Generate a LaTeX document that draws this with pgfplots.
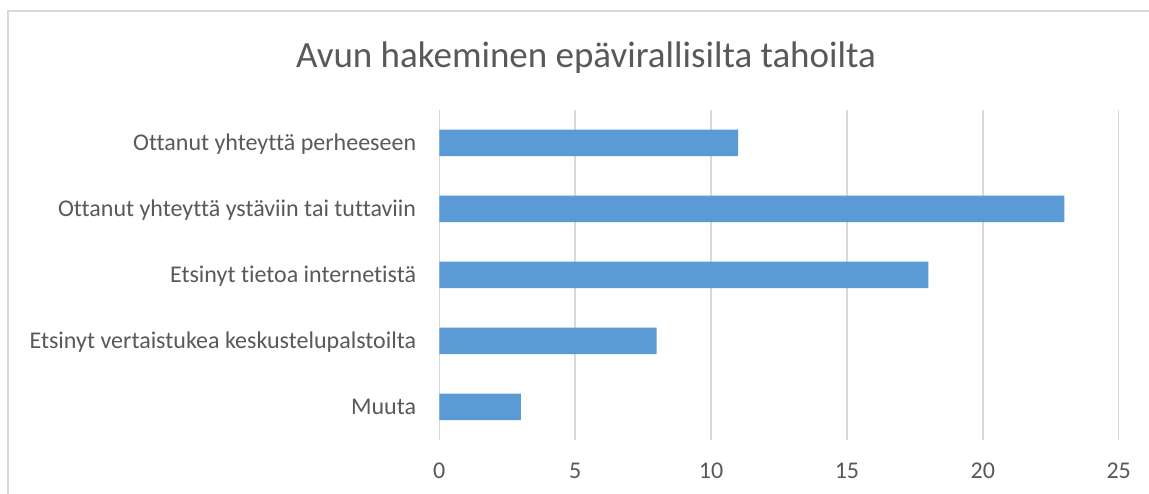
\documentclass[border=0pt]{standalone}
\usepackage{pgfplots}
\pgfplotsset{compat=1.18}
\usepackage{fontspec}
\setmainfont{Carlito}[Ligatures=NoCommon]
\definecolor{txt}{HTML}{595959}
\definecolor{barc}{HTML}{5B9BD5}
\definecolor{gridc}{HTML}{D9D9D9}
\begin{document}
\begin{tikzpicture}[x=1pt,y=1pt]
\useasboundingbox (0,0) rectangle (1149,494);
\fill[white] (0,0) rectangle (1149,494);
\draw[gridc, line width=1.3pt] (8,0) -- (8,483) -- (1149,483);
\node[anchor=base, text=txt, font=\fontsize{37}{44}\selectfont, inner sep=0pt] at (586,426) {Avun hakeminen epävirallisilta tahoilta};
\begin{axis}[
 at={(439.3pt,54pt)}, anchor=south west,
 scale only axis, width=679.4pt, height=330pt,
 xmin=0, xmax=25, ymin=-0.5, ymax=4.5,
 xbar, bar width=26.5pt,
 axis line style={draw=none},
 xtick={0,5,...,25}, ytick={0,...,4},
 yticklabels={Muuta, Etsinyt vertaistukea keskustelupalstoilta, Etsinyt tietoa internetistä, Ottanut yhteyttä ystäviin tai tuttaviin, Ottanut yhteyttä perheeseen},
 major tick length=0pt,
 xmajorgrids, grid style={gridc, line width=1.5pt},
 tick label style={text=txt, font=\fontsize{24}{28}\selectfont, inner sep=0pt},
 yticklabel style={anchor=base east, xshift=-23pt, yshift=-8pt},
 xticklabel style={anchor=center, yshift=-31pt},
 /pgf/number format/assume math mode=true,
 clip=false,
]
\addplot[fill=barc, draw=none] coordinates {(3,0) (8,1) (18,2) (23,3) (11,4)};
\end{axis}
\end{tikzpicture}
\end{document}
